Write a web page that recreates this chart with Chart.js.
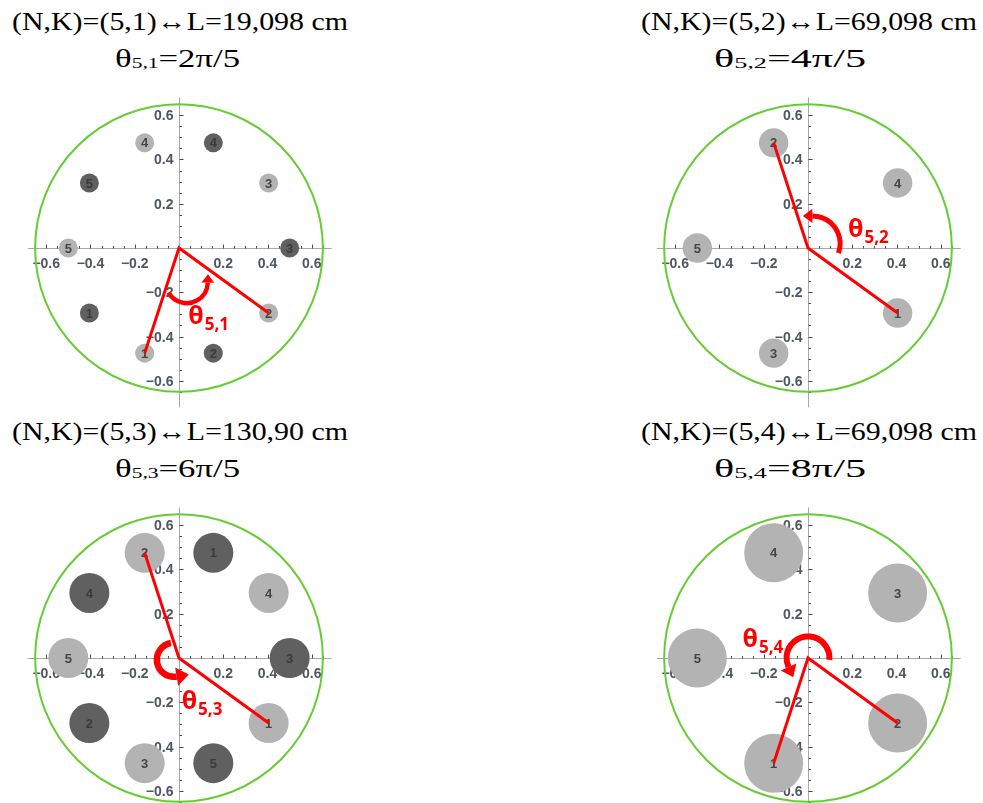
<!DOCTYPE html>
<html>
<head>
<meta charset="utf-8">
<script src="https://cdn.jsdelivr.net/npm/chart.js@4.4.1/dist/chart.umd.min.js"></script>
<style>
  html, body { margin: 0; padding: 0; background: #fff; }
  body { position: relative; width: 983px; height: 803px; overflow: hidden; }
  canvas { position: absolute; }
  .title { position: absolute; white-space: nowrap; font-family: 'Liberation Serif', serif; font-size: 25px; line-height: 25px; color: #000; transform-origin: 0 0; }
  .title sub { font-size: 0.62em; vertical-align: -0.08em; line-height: 0; }
</style>
</head>
<body>
<canvas id="panel0" width="332" height="332" style="left:13px;top:82px"></canvas>
<canvas id="panel1" width="332" height="332" style="left:642px;top:82px"></canvas>
<canvas id="panel2" width="332" height="332" style="left:13px;top:492px"></canvas>
<canvas id="panel3" width="332" height="332" style="left:642px;top:492px"></canvas>
<script>
// ---- values ----
const titleLines = ['(N,K)=(5,1)↔L=19,098 cm', '(N,K)=(5,2)↔L=69,098 cm', '(N,K)=(5,3)↔L=130,90 cm', '(N,K)=(5,4)↔L=69,098 cm'];
const thetaSubs = ['5,1', '5,2', '5,3', '5,4'];
const thetaValues = ['2π/5', '4π/5', '6π/5', '8π/5'];

const tickValues = [-0.6, -0.4, -0.2, 0.2, 0.4, 0.6];
const tickLabels = ['\u22120.6', '\u22120.4', '\u22120.2', '0.2', '0.4', '0.6'];
const discLabels = ['1', '2', '3', '4', '5'];

// panel (5,1)
const p1LightX = [-0.155, 0.405, 0.405, -0.155, -0.5];
const p1LightY = [-0.475, -0.294, 0.294, 0.475, 0];
const p1DarkX = [-0.405, 0.155, 0.5, 0.155, -0.405];
const p1DarkY = [-0.294, -0.475, 0, 0.475, 0.294];
// panel (5,2)
const p2LightX = [0.405, -0.155, -0.155, 0.405, -0.5];
const p2LightY = [-0.294, 0.475, -0.475, 0.294, 0];
// panel (5,3)
const p3LightX = [0.405, -0.155, -0.155, 0.405, -0.5];
const p3LightY = [-0.294, 0.475, -0.475, 0.294, 0];
const p3DarkX = [0.155, -0.405, 0.5, -0.405, 0.155];
const p3DarkY = [0.475, -0.294, 0, 0.294, -0.475];
// panel (5,4)
const p4LightX = [-0.155, 0.405, 0.405, -0.155, -0.5];
const p4LightY = [-0.475, -0.294, 0.294, 0.475, 0];

const ringRadius = 0.65;

// ---- layout / style ----
const VIEW = 0.75;
const discSize = [9.5, 14.7, 20, 29.5];
const LIGHT = '#b3b3b3';
const DARK = '#606060';
const RED = '#ff0000';

// turning arrows: centre, radius (data units), start/end angle in degrees
const turnCx = [0.035, 0.02, -0.023, 0];
const turnCy = [-0.154, 0.02, -0.008, 0];
const turnR = [0.095, 0.125, 0.077, 0.097];
const turnFrom = [210, -20, 100, -5];
const turnTo = [370, 100, 300, 220];
const turnWidth = [4.5, 5, 6.5, 6];
const thetaX = [0.042, 0.181, 0.012, -0.296];
const thetaY = [-0.342, 0.05, -0.229, 0.05];

const panels = [
  { light: [p1LightX, p1LightY], dark: [p1DarkX, p1DarkY] },
  { light: [p2LightX, p2LightY], dark: null },
  { light: [p3LightX, p3LightY], dark: [p3DarkX, p3DarkY] },
  { light: [p4LightX, p4LightY], dark: null }
];

function points(xs, ys) {
  return xs.map((v, i) => ({ x: v, y: ys[i] }));
}

function drawAxes(chart) {
  const { ctx, scales: { x, y } } = chart;
  const ox = Math.round(x.getPixelForValue(0)) + 0.5;
  const oy = Math.round(y.getPixelForValue(0)) + 0.5;
  ctx.save();
  ctx.lineWidth = 1;
  ctx.strokeStyle = '#a8a8a8';
  ctx.beginPath();
  ctx.moveTo(x.getPixelForValue(-0.683), oy);
  ctx.lineTo(x.getPixelForValue(0.69), oy);
  ctx.moveTo(ox, y.getPixelForValue(0.68));
  ctx.lineTo(ox, y.getPixelForValue(-0.72));
  ctx.stroke();

  ctx.strokeStyle = '#4a4a4a';
  ctx.beginPath();
  for (let k = -13; k <= 13; k++) {
    if (k === 0) continue;
    const v = k * 0.05;
    const len = k % 4 === 0 ? 4 : 2.5;
    const px = Math.round(x.getPixelForValue(v)) + 0.5;
    ctx.moveTo(px, oy);
    ctx.lineTo(px, oy - len);
    const py = Math.round(y.getPixelForValue(v)) + 0.5;
    ctx.moveTo(ox, py);
    ctx.lineTo(ox + len, py);
  }
  ctx.stroke();

  ctx.fillStyle = '#4f5562';
  ctx.font = 'bold 14px "Liberation Sans", Arial, sans-serif';
  ctx.textBaseline = 'alphabetic';
  ctx.textAlign = 'center';
  tickValues.forEach((v, i) => ctx.fillText(tickLabels[i], x.getPixelForValue(v), oy + 19));
  ctx.textAlign = 'right';
  tickValues.forEach((v, i) => ctx.fillText(tickLabels[i], ox - 6, y.getPixelForValue(v) + 5));
  ctx.restore();
}

function drawRing(chart) {
  const { ctx, scales: { x, y } } = chart;
  const ox = x.getPixelForValue(0), oy = y.getPixelForValue(0);
  const r = x.getPixelForValue(ringRadius) - ox;
  ctx.save();
  ctx.strokeStyle = '#66cc33';
  ctx.lineWidth = 2;
  ctx.beginPath();
  ctx.arc(ox, oy, r, 0, Math.PI * 2);
  ctx.stroke();
  ctx.restore();
}

function drawNumbers(chart, meta, color) {
  const ctx = chart.ctx;
  ctx.save();
  ctx.fillStyle = color;
  ctx.font = 'bold 13px "Liberation Sans", Arial, sans-serif';
  ctx.textAlign = 'center';
  ctx.textBaseline = 'middle';
  meta.data.forEach((el, i) => ctx.fillText(discLabels[i], el.x, el.y + 1));
  ctx.restore();
}

function drawTurn(chart, p) {
  const { ctx, scales: { x, y } } = chart;
  const cx = x.getPixelForValue(turnCx[p]), cy = y.getPixelForValue(turnCy[p]);
  const r = x.getPixelForValue(turnR[p]) - x.getPixelForValue(0);
  const a0 = turnFrom[p] * Math.PI / 180, a1 = turnTo[p] * Math.PI / 180;
  const head = turnWidth[p] * 1.9;
  const a1s = a1 - (head * 0.5) / r;
  ctx.save();
  ctx.strokeStyle = RED;
  ctx.fillStyle = RED;
  ctx.lineWidth = turnWidth[p];
  ctx.beginPath();
  ctx.arc(cx, cy, r, -a0, -a1s, true);
  ctx.stroke();
  // arrow head at the end of the turn
  const ex = cx + r * Math.cos(a1s), ey = cy - r * Math.sin(a1s);
  const dx = -Math.sin(a1s), dy = -Math.cos(a1s);
  const nx = -dy, ny = dx;
  ctx.beginPath();
  ctx.moveTo(ex + dx * head, ey + dy * head);
  ctx.lineTo(ex + nx * head * 0.75, ey + ny * head * 0.75);
  ctx.lineTo(ex - nx * head * 0.75, ey - ny * head * 0.75);
  ctx.closePath();
  ctx.fill();
  ctx.restore();
}

function drawTheta(chart, p) {
  const { ctx, scales: { x, y } } = chart;
  const tx = x.getPixelForValue(thetaX[p]), ty = y.getPixelForValue(thetaY[p]);
  ctx.save();
  ctx.fillStyle = RED;
  ctx.textAlign = 'left';
  ctx.textBaseline = 'alphabetic';
  ctx.font = 'bold 25px "Open Sans", "Noto Sans", sans-serif';
  ctx.fillText('θ', tx, ty);
  const w = ctx.measureText('θ').width;
  ctx.font = 'bold 17px "Open Sans", "Noto Sans", sans-serif';
  ctx.fillText(thetaSubs[p], tx + w + 1, ty + 6);
  ctx.restore();
}

function decorPlugin(p) {
  return {
    id: 'decor' + p,
    beforeDatasetsDraw(chart) {
      drawAxes(chart);
      drawRing(chart);
    },
    afterDatasetDraw(chart, args) {
      const ds = chart.data.datasets[args.index];
      if (ds.numberColor) drawNumbers(chart, args.meta, ds.numberColor);
    },
    afterDatasetsDraw(chart) {
      drawTurn(chart, p);
      drawTheta(chart, p);
    }
  };
}

panels.forEach((panel, p) => {
  const [lx, ly] = panel.light;
  const datasets = [{
    label: 'angle',
    data: [{ x: lx[0], y: ly[0] }, { x: 0, y: 0 }, { x: lx[1], y: ly[1] }],
    showLine: true,
    borderColor: RED,
    borderWidth: 3,
    pointRadius: 0,
    order: 0
  }, {
    label: 'light',
    data: points(lx, ly),
    pointRadius: discSize[p],
    pointBackgroundColor: LIGHT,
    pointBorderWidth: 0,
    borderColor: LIGHT,
    numberColor: '#454545',
    order: 1
  }];
  if (panel.dark) {
    const [dx, dy] = panel.dark;
    datasets.push({
      label: 'dark',
      data: points(dx, dy),
      pointRadius: discSize[p],
      pointBackgroundColor: DARK,
      pointBorderWidth: 0,
      borderColor: DARK,
      numberColor: '#3a3a3a',
      order: 2
    });
  }
  new Chart(document.getElementById('panel' + p), {
    type: 'scatter',
    data: { datasets },
    options: {
      responsive: false,
      animation: false,
      events: [],
      clip: false,
      layout: { padding: 0, autoPadding: false },
      plugins: { legend: { display: false }, tooltip: { enabled: false } },
      scales: {
        x: { type: 'linear', min: -VIEW, max: VIEW, display: false },
        y: { type: 'linear', min: -VIEW, max: VIEW, display: false }
      }
    },
    plugins: [decorPlugin(p)]
  });
});

// ---- titles above each panel ----
const titleCx = [180, 809, 180, 809];
const subCx = [177.5, 790, 177.5, 790];
const titleBase = [30, 30, 440, 440];
const subWidth = [125, 152, 125, 152];

function placeTitle(html, cx, baseline, width) {
  const el = document.createElement('div');
  el.className = 'title';
  el.innerHTML = html;
  document.body.appendChild(el);
  const w0 = el.getBoundingClientRect().width;
  el.style.transform = 'scaleX(' + (width / w0) + ')';
  el.style.left = (cx - width / 2) + 'px';
  el.style.top = (baseline - 20.9) + 'px';
}

titleLines.forEach((t, p) => {
  placeTitle(t, titleCx[p], titleBase[p], 336);
  placeTitle('θ<sub>' + thetaSubs[p] + '</sub>=' + thetaValues[p], subCx[p], titleBase[p] + 36.7, subWidth[p]);
});
</script>
</body>
</html>
